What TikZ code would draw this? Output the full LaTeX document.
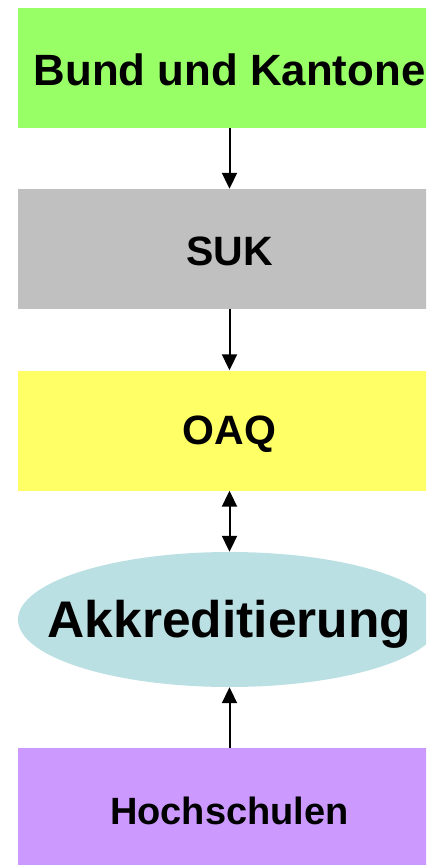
\documentclass[tikz,border=0pt]{standalone}
\usepackage{fontspec}
\setmainfont{Liberation Sans}
\usetikzlibrary{shapes.geometric,arrows.meta}
\definecolor{cgreen}{HTML}{99FF66}
\definecolor{cgray}{HTML}{C0C0C0}
\definecolor{cyellow}{HTML}{FFFF66}
\definecolor{cblue}{HTML}{BBE0E3}
\definecolor{cpurple}{HTML}{CC99FF}
\newcommand{\lowertext}[2]{\raisebox{-#1}[\height][\depth]{#2}}
\tikzset{
  box/.style={rectangle, minimum width=423pt, minimum height=120pt, inner sep=0pt},
  oval/.style={ellipse, minimum width=423pt, minimum height=135pt, inner sep=0pt},
  conn/.style={line width=2pt, -{Triangle[length=16pt,width=15pt]}},
  bconn/.style={line width=2pt, {Triangle[length=16pt,width=15pt]}-{Triangle[length=16pt,width=15pt]}}
}
\begin{document}
\begin{tikzpicture}[x=1pt,y=-1pt]
\useasboundingbox (0,0) rectangle (426,865);
\clip (0,0) rectangle (426,865);
\node[box, fill=cgreen, font=\fontsize{43.8}{48}\selectfont\bfseries] (bk) at (229.5,67.5) {\lowertext{2pt}{Bund und Kantone}};
\node[box, fill=cgray, font=\fontsize{41}{46}\selectfont\bfseries] (suk) at (229.5,249) {\lowertext{2pt}{SUK}};
\node[box, fill=cyellow, font=\fontsize{41}{46}\selectfont\bfseries] (oaq) at (229.5,430.5) {\lowertext{4pt}{OAQ}};
\node[oval, fill=cblue, font=\fontsize{51.5}{56}\selectfont\bfseries] (akk) at (229.5,619.5) {\makebox[0pt]{\lowertext{5pt}{Akkreditierung}}};
\node[box, fill=cpurple, font=\fontsize{38}{42}\selectfont\bfseries] (hs) at (229.5,808) {\lowertext{3pt}{Hochschulen}};
\draw[conn] (bk.south) -- (suk.north);
\draw[conn] (suk.south) -- (oaq.north);
\draw[bconn] (oaq.south) -- (akk.north);
\draw[conn] (hs.north) -- (akk.south);
\end{tikzpicture}
\end{document}
